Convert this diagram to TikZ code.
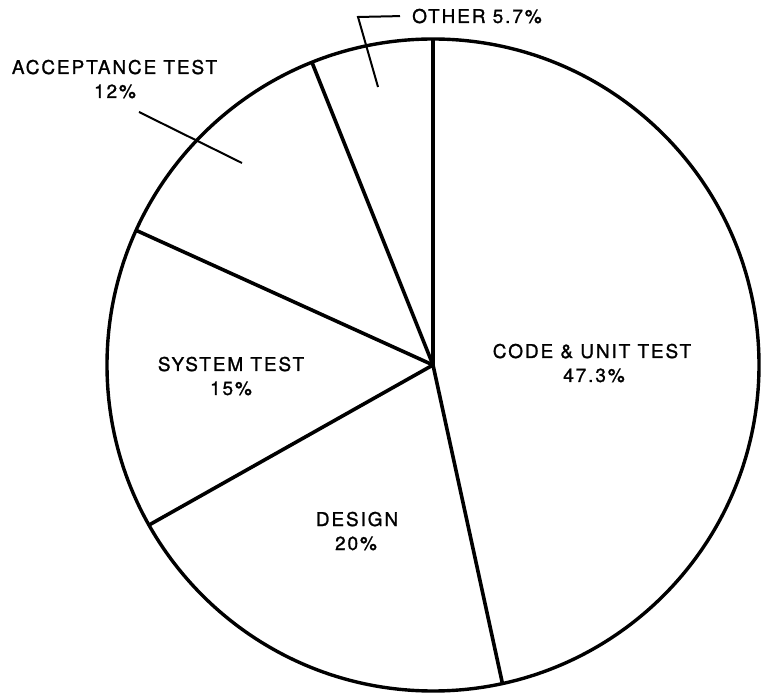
\documentclass[tikz,border=0pt]{standalone}
\usepackage{fontspec}
\setmainfont{TeX Gyre Heros}[LetterSpace=10,FakeBold=1.2]
\usetikzlibrary{calc}
\begin{document}
\begin{tikzpicture}[x=1pt,y=1pt,
  rim/.style={line width=3.4pt},
  divider/.style={line width=3.6pt},
  leader/.style={line width=2pt},
  lbl/.style={inner sep=0pt,font=\fontsize{19}{24}\selectfont}]
\useasboundingbox (0,0) rectangle (762,696);
\def\R{326}
\coordinate (c) at (433,331);
% slice boundaries on the rim
\coordinate (b0) at ($(c)+(90:\R)$);
\coordinate (b1) at ($(c)+(111.8:\R)$);
\coordinate (b2) at ($(c)+(155.6:\R)$);
\coordinate (b3) at ($(c)+(209.4:\R)$);
\coordinate (b4) at ($(c)+(282.3:\R)$);
% the pie
\draw[rim] (c) circle (\R);
\draw[line width=4.6pt] (c) -- (b0);
\foreach \b in {b1,b2,b3,b4} \draw[divider] (c) -- (\b);
% labels
\node[lbl,anchor=base west] (other) at (412,673) {OTHER 5.7\%};
\node[lbl,anchor=base] (acc) at (114.5,622) {ACCEPTANCE TEST};
\node[lbl,anchor=base] (accp) at (115,598) {12\%};
\node[lbl,anchor=base] (sys) at (231,325) {SYSTEM TEST};
\node[lbl,anchor=base] (sysp) at (231,301) {15\%};
\node[lbl,anchor=base] (code) at (592,338) {CODE \& UNIT TEST};
\node[lbl,anchor=base] (codep) at (594,314) {47.3\%};
\node[lbl,anchor=base] (des) at (357,170) {DESIGN};
\node[lbl,anchor=base] (desp) at (356,146) {20\%};
% leader lines
\coordinate (o1) at (358,679);
\coordinate (o2) at (378,609);
\draw[leader] ($(other.west)+(-12,0)$) -- (o1) -- (o2);
\coordinate (a1) at (139,584);
\coordinate (a2) at (242,533);
\draw[leader] (a1) -- (a2);
\end{tikzpicture}
\end{document}
